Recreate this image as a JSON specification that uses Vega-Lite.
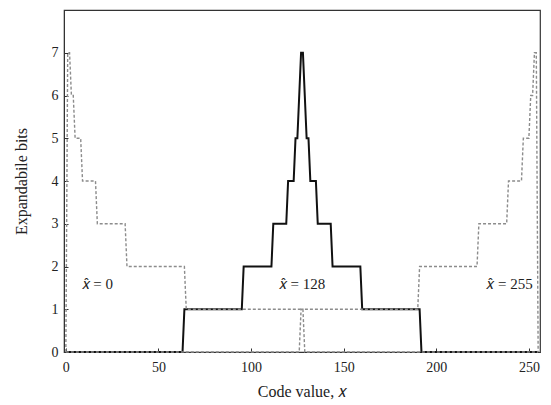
{
  "$schema": "https://vega.github.io/schema/vega-lite/v6.json",
  "width": 476,
  "height": 342,
  "autosize": "none",
  "padding": {"left": 64, "top": 10, "right": 11, "bottom": 53},
  "background": "white",
  "config": {
    "font": "Liberation Serif",
    "view": {"stroke": "#333", "strokeWidth": 1.2},
    "axis": {
      "grid": false,
      "domainColor": "#333",
      "tickColor": "#333",
      "labelColor": "#222",
      "titleColor": "#222",
      "labelFont": "Liberation Serif",
      "titleFont": "Liberation Serif",
      "labelFontSize": 14,
      "titleFontSize": 16,
      "titleFontWeight": "normal",
      "tickSize": -4,
      "tickWidth": 1
    }
  },
  "datasets": {
    "bits": [
      {"code": 0, "bits": 0, "pred": "x̂=128"},
      {"code": 63, "bits": 0, "pred": "x̂=128"},
      {"code": 64, "bits": 1, "pred": "x̂=128"},
      {"code": 95, "bits": 1, "pred": "x̂=128"},
      {"code": 96, "bits": 2, "pred": "x̂=128"},
      {"code": 111, "bits": 2, "pred": "x̂=128"},
      {"code": 112, "bits": 3, "pred": "x̂=128"},
      {"code": 119, "bits": 3, "pred": "x̂=128"},
      {"code": 120, "bits": 4, "pred": "x̂=128"},
      {"code": 123, "bits": 4, "pred": "x̂=128"},
      {"code": 124, "bits": 5, "pred": "x̂=128"},
      {"code": 125, "bits": 5, "pred": "x̂=128"},
      {"code": 126, "bits": 6, "pred": "x̂=128"},
      {"code": 127, "bits": 7, "pred": "x̂=128"},
      {"code": 128, "bits": 7, "pred": "x̂=128"},
      {"code": 129, "bits": 6, "pred": "x̂=128"},
      {"code": 130, "bits": 5, "pred": "x̂=128"},
      {"code": 131, "bits": 5, "pred": "x̂=128"},
      {"code": 132, "bits": 4, "pred": "x̂=128"},
      {"code": 135, "bits": 4, "pred": "x̂=128"},
      {"code": 136, "bits": 3, "pred": "x̂=128"},
      {"code": 143, "bits": 3, "pred": "x̂=128"},
      {"code": 144, "bits": 2, "pred": "x̂=128"},
      {"code": 159, "bits": 2, "pred": "x̂=128"},
      {"code": 160, "bits": 1, "pred": "x̂=128"},
      {"code": 191, "bits": 1, "pred": "x̂=128"},
      {"code": 192, "bits": 0, "pred": "x̂=128"},
      {"code": 255, "bits": 0, "pred": "x̂=128"},

      {"code": 0, "bits": 0, "pred": "x̂=0"},
      {"code": 1, "bits": 7, "pred": "x̂=0"},
      {"code": 2, "bits": 7, "pred": "x̂=0"},
      {"code": 3, "bits": 6, "pred": "x̂=0"},
      {"code": 4, "bits": 6, "pred": "x̂=0"},
      {"code": 5, "bits": 5, "pred": "x̂=0"},
      {"code": 8, "bits": 5, "pred": "x̂=0"},
      {"code": 9, "bits": 4, "pred": "x̂=0"},
      {"code": 16, "bits": 4, "pred": "x̂=0"},
      {"code": 17, "bits": 3, "pred": "x̂=0"},
      {"code": 32, "bits": 3, "pred": "x̂=0"},
      {"code": 33, "bits": 2, "pred": "x̂=0"},
      {"code": 64, "bits": 2, "pred": "x̂=0"},
      {"code": 65, "bits": 1, "pred": "x̂=0"},
      {"code": 128, "bits": 1, "pred": "x̂=0"},
      {"code": 129, "bits": 0, "pred": "x̂=0"},
      {"code": 255, "bits": 0, "pred": "x̂=0"},

      {"code": 0, "bits": 0, "pred": "x̂=255"},
      {"code": 126, "bits": 0, "pred": "x̂=255"},
      {"code": 127, "bits": 1, "pred": "x̂=255"},
      {"code": 190, "bits": 1, "pred": "x̂=255"},
      {"code": 191, "bits": 2, "pred": "x̂=255"},
      {"code": 222, "bits": 2, "pred": "x̂=255"},
      {"code": 223, "bits": 3, "pred": "x̂=255"},
      {"code": 238, "bits": 3, "pred": "x̂=255"},
      {"code": 239, "bits": 4, "pred": "x̂=255"},
      {"code": 246, "bits": 4, "pred": "x̂=255"},
      {"code": 247, "bits": 5, "pred": "x̂=255"},
      {"code": 250, "bits": 5, "pred": "x̂=255"},
      {"code": 251, "bits": 6, "pred": "x̂=255"},
      {"code": 252, "bits": 6, "pred": "x̂=255"},
      {"code": 253, "bits": 7, "pred": "x̂=255"},
      {"code": 254, "bits": 7, "pred": "x̂=255"},
      {"code": 255, "bits": 0, "pred": "x̂=255"}
    ],
    "labels": [
      {"code": 17, "bits": 1.6, "text": "𝑥̂ = 0"},
      {"code": 127.5, "bits": 1.6, "text": "𝑥̂ = 128"},
      {"code": 239.5, "bits": 1.6, "text": "𝑥̂ = 255"}
    ]
  },
  "layer": [
    {
      "data": {"name": "bits"},
      "transform": [{"filter": "datum.pred === 'x̂=128'"}],
      "mark": {"type": "line", "color": "#111", "strokeWidth": 2, "interpolate": "linear"},
      "encoding": {
        "x": {
          "field": "code", "type": "quantitative",
          "scale": {"domain": [-1, 256], "nice": false, "zero": false},
          "axis": {"values": [0, 50, 100, 150, 200, 250], "title": "Code value, 𝑥", "labelPadding": 12, "titlePadding": 9, "labelDx": 2}
        },
        "y": {
          "field": "bits", "type": "quantitative",
          "scale": {"domain": [0, 8], "nice": false},
          "axis": {"values": [0, 1, 2, 3, 4, 5, 6, 7], "title": "Expandabile bits", "labelPadding": 10, "titlePadding": 22}
        }
      }
    },
    {
      "data": {"name": "bits"},
      "transform": [{"filter": "datum.pred !== 'x̂=128'"}],
      "mark": {"type": "line", "color": "#8c8c8c", "strokeWidth": 1.4, "strokeDash": [3, 2]},
      "encoding": {
        "x": {"field": "code", "type": "quantitative"},
        "y": {"field": "bits", "type": "quantitative"},
        "detail": {"field": "pred"}
      }
    },
    {
      "data": {"name": "labels"},
      "mark": {"type": "text", "font": "Liberation Serif", "fontSize": 15, "color": "#222", "align": "center", "baseline": "middle"},
      "encoding": {
        "x": {"field": "code", "type": "quantitative"},
        "y": {"field": "bits", "type": "quantitative"},
        "text": {"field": "text"}
      }
    }
  ]
}
